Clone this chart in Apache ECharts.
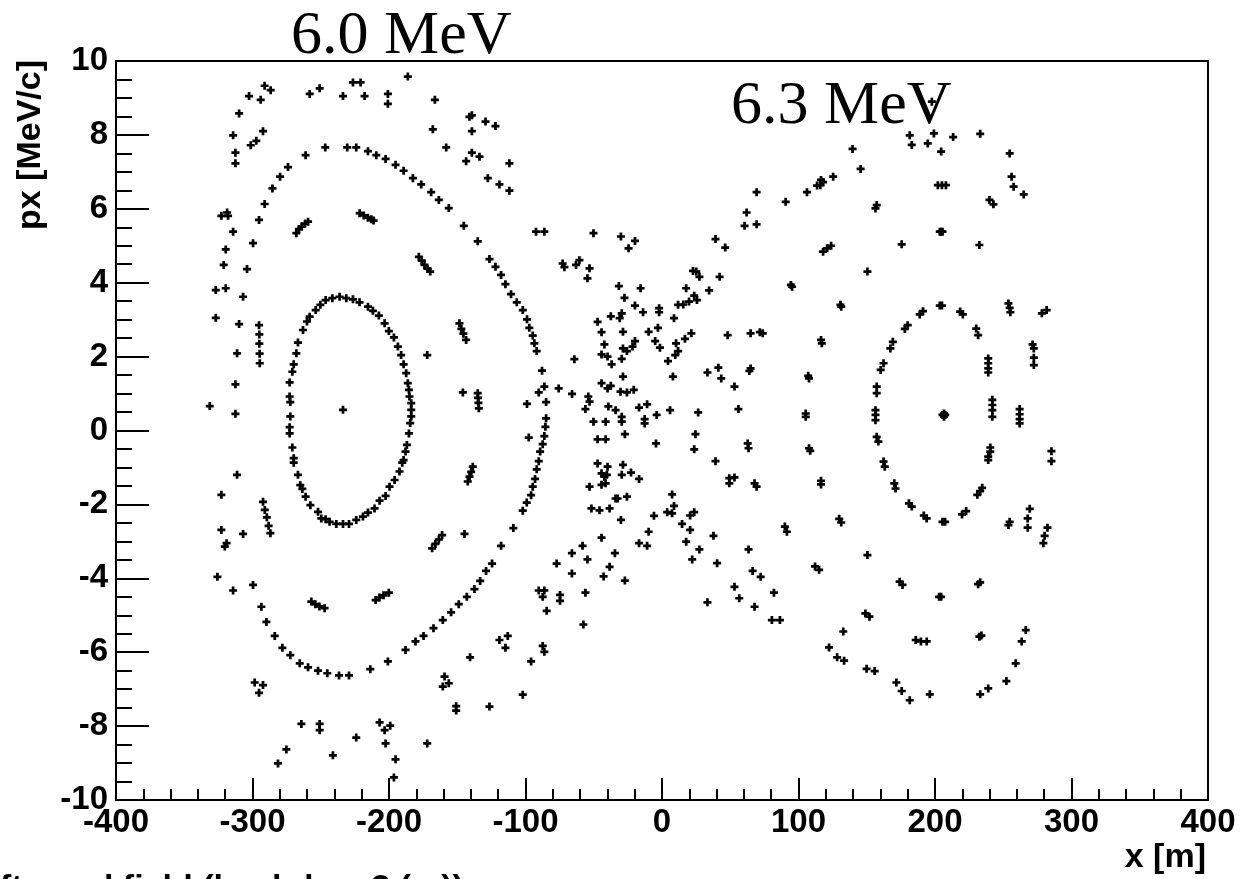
<!DOCTYPE html>
<html>
<head>
<meta charset="utf-8">
<script src="https://cdn.jsdelivr.net/npm/echarts@6/dist/echarts.min.js"></script>
<style>
html,body{margin:0;padding:0;background:#fff;overflow:hidden;}
#chart{width:1241px;height:879px;}
</style>
</head>
<body>
<div id="chart"></div>
<script>
// ---- data (x [m], px [MeV/c]) ----
const xTicks = [-400,-300,-200,-100,0,100,200,300,400];
const yTicks = [-10,-8,-6,-4,-2,0,2,4,6,8,10];

const innerLeft = [
[-233.7,0.56],
[-241.5,3.58],[-236.2,3.62],[-231.3,3.58],[-226.4,3.55],[-221.6,3.47],[-215.4,3.35],[-211.8,3.24],[-207.4,3.11],[-203.2,2.90],[-200.1,2.69],[-196.4,2.52],[-193.5,2.27],[-191.1,2.04],[-189.3,1.79],[-187.4,1.55],[-186.2,1.28],[-185.4,1.10],[-185.0,0.92],[-183.7,0.74],[-183.7,0.56],[-183.7,0.38],[-184.5,0.20],
[-246.4,3.53],[-250.3,3.40],[-253.7,3.26],[-258.1,3.08],[-260.1,2.95],[-263.0,2.72],[-266.7,2.38],[-267.9,2.09],[-269.8,1.79],[-270.8,1.59],[-272.8,1.30],[-272.8,0.92],[-272.3,0.77],[-272.3,0.38],[-272.8,0.09],
[-272.8,-0.08],[-270.8,-0.46],[-269.8,-0.75],[-269.8,-0.87],[-266.7,-1.20],[-265.0,-1.48],[-263.5,-1.58],[-261.1,-1.79],[-257.6,-2.02],[-252.0,-2.20],[-249.6,-2.38],[-246.4,-2.40],[-243.5,-2.47],[-238.6,-2.53],[-233.7,-2.53],[-229.3,-2.53],[-224.0,-2.42],[-219.1,-2.33],[-215.4,-2.22],[-210.6,-2.11],[-206.9,-1.90],[-202.5,-1.77],[-199.6,-1.52],[-195.9,-1.34],[-192.3,-1.11],[-190.3,-0.87],[-189.3,-0.80],[-187.9,-0.57],[-186.9,-0.39],[-185.4,-0.08]
];

const outerLeft = [
[-246.7,7.66],[-230.6,7.66],[-224.0,7.66],[-261.1,7.45],[-274.0,7.13],[-279.8,6.87],[-285.4,6.55],[-291.1,6.13],[-295.2,5.70],[-299.6,5.07],[-304.0,4.37],[-306.9,3.62],[-309.8,2.88],[-311.3,2.09],[-312.5,1.25],[-312.5,0.45],
[-215.4,7.56],[-209.3,7.45],[-202.5,7.35],[-195.2,7.19],[-189.3,7.03],[-182.5,6.83],[-176.4,6.66],[-169.1,6.45],[-163.5,6.24],[-156.2,6.02],[-145.2,5.54],[-135.0,5.12],[-126.4,4.64],[-122.0,4.43],[-117.9,4.21],[-114.7,3.96],[-110.6,3.69],[-106.4,3.47],[-102.0,3.26],[-98.9,3.01],[-97.2,2.78],[-94.7,2.57],[-93.5,2.36],[-91.8,2.15],[-87.9,1.62],[-86.2,1.19],[-84.9,0.77],[-84.9,0.33],
[-311.3,-1.20],[-306.9,-2.80],[-299.6,-4.18],[-293.5,-4.77],[-289.8,-5.18],[-283.7,-5.56],[-278.1,-5.88],[-272.3,-6.08],[-265.4,-6.30],[-259.3,-6.41],[-252.0,-6.50],[-245.2,-6.57],[-236.6,-6.63],[-229.3,-6.63],[-213.7,-6.46],[-200.8,-6.25],[-187.9,-5.94],[-180.6,-5.71],[-174.7,-5.56],[-167.4,-5.35],[-160.6,-5.13],[-154.5,-4.92],[-148.9,-4.70],[-143.0,-4.50],[-137.4,-4.29],[-133.2,-4.07],[-128.9,-3.80],[-124.5,-3.60],[-117.9,-3.12],[-108.9,-2.64],[-102.0,-2.17],[-99.1,-1.95],[-95.9,-1.75],[-94.7,-1.52],[-93.0,-1.31],[-91.8,-1.05],[-90.3,-0.83],[-89.3,-0.57],[-87.4,-0.37],[-86.2,-0.15],[-85.4,0.10]
];

const islandsLeft = [
[-267.9,5.34],[-266.0,5.45],[-264.0,5.52],[-261.5,5.60],[-259.3,5.65],
[-221.5,5.88],[-218.5,5.82],[-215.5,5.76],[-213.0,5.72],[-211.3,5.68],
[-178.1,4.70],[-176.0,4.60],[-174.0,4.48],[-171.8,4.38],[-169.8,4.30],
[-148.4,2.90],[-147.0,2.75],[-145.5,2.62],[-143.5,2.45],
[-135.0,1.01],[-134.8,0.88],[-134.5,0.75],[-134.2,0.60],
[-142.3,-1.38],[-141.0,-1.25],[-139.8,-1.12],[-138.6,-0.98],
[-168.4,-3.19],[-166.0,-3.07],[-163.5,-2.95],[-161.1,-2.83],
[-209.8,-4.59],[-207.0,-4.52],[-204.0,-4.46],[-200.1,-4.39],
[-256.9,-4.63],[-254.0,-4.70],[-251.0,-4.76],[-247.2,-4.81],
[-292.3,-1.93],[-291.0,-2.15],[-289.5,-2.35],[-288.2,-2.58],[-286.9,-2.78],
[-295.2,2.85],[-295.0,2.60],[-295.0,2.35],[-294.8,2.08],[-294.7,1.82]
];

const chaosLeft = [
[-186.2,9.58],[-226.4,9.42],[-220.8,9.42],[-291.1,9.33],[-286.7,9.21],[-302.5,9.05],[-294.0,8.95],[-250.8,9.26],[-258.1,9.11],[-233.7,9.05],[-217.9,9.05],[-200.8,9.11],[-200.8,8.84],[-166.4,8.95],[-309.8,8.58],[-314.2,7.99],[-292.3,8.10],[-301.3,7.72],[-297.2,7.84],[-312.5,7.52],[-312.5,7.23],[-167.9,8.15],[-141.1,8.49],[-139.3,8.53],[-139.3,8.10],[-129.3,8.36],[-122.0,8.24],[-158.1,7.66],[-139.3,7.52],[-143.5,7.29],[-133.7,7.41],[-111.8,7.23],[-127.6,6.83],[-119.1,6.66],[-111.8,6.49],
[-322.8,5.81],[-318.6,5.90],[-317.9,5.81],[-314.2,5.38],[-319.6,4.90],[-321.1,4.48],[-326.9,3.80],[-319.6,3.85],[-326.9,3.05],[-331.3,0.66],
[-322.8,-1.74],[-322.8,-2.69],[-320.3,-3.14],[-319.0,-3.05],[-325.7,-3.96],[-314.2,-4.33],
[-172.0,2.04],[-145.9,1.03],[-144.7,-2.80],
[-98.9,0.72],[-90.3,1.03],[-75.7,1.14],[-65.9,0.99],[-64.2,1.93],[-63.0,4.48],[-72.8,4.52],[-71.5,4.42],[-92.3,5.38],[-86.2,5.38],[-97.6,-0.19],
[-66.0,-3.32],[-66.0,-3.87],[-77.2,-3.60],[-90.3,-4.33],[-86.2,-4.33],[-87.4,-4.50],[-84.5,-4.88],[-74.7,-4.45],[-74.7,-4.61],[-119.1,-5.67],[-113.0,-5.56],[-114.7,-5.88],[-87.4,-5.83],[-86.2,-5.99],[-140.6,-6.14],[-95.9,-6.25],[-159.3,-6.66],[-156.2,-6.84],[-160.6,-6.93],[-150.8,-7.46],[-150.8,-7.58],[-126.4,-7.47],[-102.0,-7.15],
[-298.4,-6.82],[-292.3,-6.89],[-295.2,-7.10],[-264.2,-7.94],[-250.8,-7.94],[-250.8,-8.11],[-206.9,-7.90],[-203.2,-8.11],[-199.1,-7.99],[-202.5,-8.47],[-195.2,-8.90],[-196.4,-9.39],[-224.0,-8.31],[-241.1,-8.79],[-172.0,-8.47],[-275.2,-8.63],[-281.3,-9.01]
];

const chaosCenter = [
[-50.2,5.34],[-30.1,5.25],[-24.5,4.93],[-19.8,5.13],[-60.5,4.61],[-53.1,4.39],[-54.6,4.12],[22.7,4.32],[25.1,4.30],[27.4,4.16],[42.2,4.16],[-31.6,3.91],[-15.7,3.85],[17.7,3.85],[23.6,3.65],[25.6,3.53],[34.5,3.79],[-27.5,3.59],[-19.8,3.38],[-13.9,3.20],[-2.1,3.31],[-2.1,3.20],[11.8,3.40],[15.6,3.41],[19.8,3.49],[8.8,3.04],[-29.5,3.17],[-31.0,3.04],[-47.2,2.94],[-37.5,3.09],[-44.3,2.66],[-28.6,2.67],[-9.8,2.67],[-3.0,2.78],[-42.2,2.33],[-19.8,2.42],[-21.6,2.27],[-25.7,2.15],[-28.6,2.22],[-5.0,2.42],[-1.5,2.24],[10.3,2.36],[16.8,2.48],[21.5,2.63],[11.8,2.15],[9.7,2.04],[-44.3,2.06],[-39.9,2.00],[-36.9,1.79],[-29.5,1.94],[4.4,1.88],[-28.6,1.46],[8.0,1.46],[-44.3,1.28],[-39.9,1.14],[-37.5,1.21],[-30.4,1.05],[-25.7,1.03],[-20.7,1.10],[-54.0,0.92],[-53.1,0.78],[-56.1,0.58],[-39.3,0.65],[-34.0,0.55],[-16.8,0.62],[-10.9,0.71],[-3.9,0.42],[5.9,0.55],[-29.5,0.37],[-29.5,0.24],[-50.2,0.24],[-41.3,0.24],[-12.7,0.31],[-12.7,0.19],[33.3,1.57],[41.3,1.70],[43.4,1.41],[53.1,1.19],[26.5,0.49],
[-47.2,-0.24],[-41.3,-0.24],[-27.2,-0.10],[-4.4,-0.35],[24.5,-0.10],[23.6,-0.51],[39.2,-0.83],[-47.2,-0.89],[-39.9,-0.98],[-28.6,-0.93],[-29.5,-1.20],[-22.7,-1.14],[-16.8,-1.31],[-44.3,-1.16],[-42.2,-1.25],[-40.4,-1.20],[-44.3,-1.47],[-41.3,-1.43],[-53.1,-1.52],[-51.7,-2.11],[-45.8,-2.16],[-38.4,-2.11],[-34.0,-1.84],[-32.5,-1.84],[-25.7,-1.79],[-30.1,-2.42],[-44.3,-2.90],[-58.2,-3.12],[-54.6,-3.49],[-34.5,-3.32],[-38.4,-3.69],[-42.8,-3.95],[-27.2,-4.06],[-56.1,-4.39],[-57.6,-5.25],[-16.8,-3.05],[-10.9,-3.12],[-9.8,-2.74],[-5.9,-2.31],[3.8,-2.21],[7.4,-2.24],[8.8,-2.04],[7.4,-1.73],[14.7,-2.53],[20.6,-2.30],[23.6,-2.21],[20.6,-2.69],[17.7,-3.01],[27.4,-3.22],[22.1,-3.49],[37.7,-2.85],[40.4,-3.59],[33.3,-4.65],[49.3,-1.29],[49.3,-1.43],[53.1,-1.27],[63.4,-3.22],[66.4,-3.80],[72.3,-3.96],[53.1,-4.23],[56.6,-4.54],[67.8,-4.77],[82.0,-4.39],[80.5,-5.13],[86.4,-5.13]
];

const innerRight = [
[206.6,0.46],[206.6,0.37],[205.5,0.42],[207.5,0.42],
[205.1,3.38],[203.5,3.38],[191.2,3.23],[188.8,3.14],[218.4,3.22],[220.4,3.14],[180.0,2.85],[177.9,2.75],[230.2,2.76],[231.6,2.58],[169.1,2.40],[167.3,2.22],[162.3,1.82],[160.2,1.64],[157.3,1.19],[157.3,1.01],[156.4,0.55],[156.4,0.42],[156.4,0.28],[239.0,1.95],[239.0,1.82],[239.0,1.68],[239.0,1.57],[242.0,0.83],[242.0,0.69],[242.0,0.55],[242.0,0.37],
[157.3,-0.17],[158.5,-0.30],[162.3,-0.84],[163.2,-0.98],[170.2,-1.43],[171.1,-1.57],[180.9,-1.97],[183.0,-2.06],[191.8,-2.30],[193.9,-2.38],[207.4,-2.47],[205.5,-2.47],[219.8,-2.27],[222.8,-2.18],[231.0,-1.74],[233.1,-1.64],[234.6,-1.55],[239.0,-0.80],[239.0,-0.71],[240.5,-0.57],[240.5,-0.46]
];

const middleRight = [
[157.3,6.10],[156.4,6.01],[204.5,5.38],[203.5,5.38],[205.5,5.38],[121.0,4.93],[118.0,4.84],[123.9,5.00],[175.6,5.04],[232.5,5.02],[150.5,4.30],[94.4,3.94],[95.3,3.89],[130.7,3.40],[131.3,3.35],[116.5,2.45],[117.1,2.36],[107.1,1.48],[107.7,1.41],[105.3,0.46],[105.3,0.37],[253.8,3.44],[254.7,3.32],[255.2,3.20],[271.5,2.33],[272.4,2.22],[272.4,1.97],[272.4,1.77],[262.0,0.58],[262.0,0.44],[262.0,0.31],[262.0,0.19],[239.9,6.24],[242.8,6.12],[202.1,6.64],[205.1,6.64],[208.0,6.64],
[62.8,-0.35],[63.4,-0.48],[67.8,-1.43],[69.3,-1.52],[90.0,-2.60],[91.5,-2.74],[112.1,-3.68],[115.1,-3.77],[149.0,-4.95],[152.0,-5.04],[203.0,-4.50],[204.5,-4.50],[231.6,-4.16],[233.1,-4.11],[174.1,-4.09],[176.2,-4.18],[150.5,-3.37],[129.8,-2.39],[131.3,-2.49],[116.5,-1.46],[116.5,-1.36],[107.7,-0.48],[108.6,-0.55],[253.8,-2.56],[254.7,-2.47],[269.4,-2.12],[267.9,-2.38],[267.9,-2.63],[282.4,-2.63],[280.3,-2.85],[279.4,-3.05],[285.3,-0.56],[285.3,-0.83],
[64.9,1.68],[64.0,1.61],[56.0,0.58],[71.7,2.66],[73.8,2.63],[64.9,2.63],[48.1,2.58],[278.3,3.17],[281.8,3.26]
];

const outerRight = [
[132.8,-5.44],[122.4,-5.87],[128.3,-6.14],[133.4,-6.23],[149.9,-6.45],[155.8,-6.51],[171.7,-6.82],[175.6,-7.05],[181.5,-7.30],[185.9,-5.67],[189.7,-5.71],[193.9,-5.71],[196.2,-7.14],[232.5,-5.58],[234.0,-5.55],[233.1,-7.14],[239.0,-6.98],[252.3,-6.78],[259.1,-6.30],[263.5,-5.71],[266.5,-5.40],
[197.7,8.90],[181.5,7.99],[183.0,7.73],[199.2,8.04],[194.7,7.77],[204.5,7.55],[213.3,7.94],[233.1,8.03],[254.7,7.50],[256.1,6.87],[257.6,6.60],[265.0,6.39],[139.6,7.62],[145.5,7.08],[125.4,6.87],[116.5,6.78],[116.0,6.64],[118.0,6.72],[113.6,6.63],[106.2,6.45],[90.6,6.19],[69.3,6.45],[62.0,5.90],[60.5,5.54],[69.3,5.58],[39.2,5.18],[46.3,4.95]
];

// ---- chart ----
const SANS = '"Liberation Sans", Arial, Helvetica, sans-serif';
const SERIF = '"Liberation Serif", "Times New Roman", serif';
const PLUS = 'path://M3.3,0H6.7V3.3H10V6.7H6.7V10H3.3V6.7H0V3.3H3.3Z';

const chart = echarts.init(document.getElementById('chart'), null, {renderer: 'canvas'});

function sc(name, data) {
  return {
    name: name, type: 'scatter', data: data,
    symbol: PLUS, symbolSize: 8,
    itemStyle: {color: '#000', opacity: 1},
    silent: true, animation: false
  };
}

chart.setOption({
  animation: false,
  backgroundColor: '#fff',
  grid: {left: 116, right: 33, top: 61, bottom: 79, show: true, borderColor: '#000', borderWidth: 2, backgroundColor: 'transparent'},
  xAxis: {
    type: 'value', min: xTicks[0], max: xTicks[xTicks.length - 1], interval: 100,
    axisLine: {show: true, onZero: false, lineStyle: {color: '#000', width: 2}},
    axisTick: {show: true, inside: true, length: 22, lineStyle: {color: '#000', width: 2}},
    minorTick: {show: true, splitNumber: 5, length: 11, lineStyle: {color: '#000', width: 2}},
    splitLine: {show: false},
    axisLabel: {color: '#000', fontFamily: SANS, fontWeight: 'bold', fontSize: 33, margin: 6, showMinLabel: true, showMaxLabel: true}
  },
  yAxis: {
    type: 'value', min: yTicks[0], max: yTicks[yTicks.length - 1], interval: 2,
    axisLine: {show: true, onZero: false, lineStyle: {color: '#000', width: 2}},
    axisTick: {show: true, inside: true, length: 33, lineStyle: {color: '#000', width: 2}},
    minorTick: {show: true, splitNumber: 4, length: 16, lineStyle: {color: '#000', width: 2}},
    splitLine: {show: false},
    axisLabel: {color: '#000', fontFamily: SANS, fontWeight: 'bold', fontSize: 33, margin: 8, showMinLabel: true, showMaxLabel: true}
  },
  graphic: [
    {type: 'text', left: 291, top: 6, silent: true,
     style: {text: '6.0 MeV', font: '62px ' + SERIF, fill: '#000'}},
    {type: 'text', left: 731, top: 76, silent: true, z: 100,
     style: {text: '6.3 MeV', font: '62px ' + SERIF, fill: '#000'}},
    {type: 'text', x: 31, y: 60, rotation: Math.PI / 2, silent: true,
     style: {text: 'px [MeV/c]', font: 'bold 34px ' + SANS, fill: '#000', align: 'right', verticalAlign: 'middle'}},
    {type: 'text', x: 1206, y: 858, silent: true,
     style: {text: 'x [m]', font: 'bold 34px ' + SANS, fill: '#000', align: 'right', verticalAlign: 'middle'}},
    {type: 'text', x: 0, y: 872, silent: true,
     style: {text: 'ftermal field (lambda = 3 (m))', font: 'bold 34px ' + SANS, fill: '#000', align: 'left', verticalAlign: 'top'}}
  ],
  series: [
    sc('innerLeft', innerLeft),
    sc('outerLeft', outerLeft),
    sc('islandsLeft', islandsLeft),
    sc('chaosLeft', chaosLeft),
    sc('chaosCenter', chaosCenter),
    sc('innerRight', innerRight),
    sc('middleRight', middleRight),
    sc('outerRight', outerRight)
  ]
});
</script>
</body>
</html>
